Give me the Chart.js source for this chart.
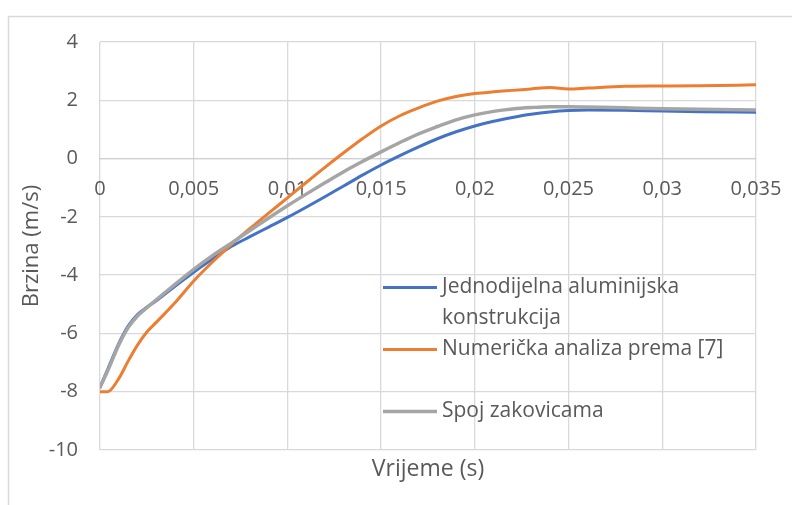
<!DOCTYPE html>
<html>
<head>
<meta charset="utf-8">
<title>Brzina</title>
<script src="https://cdn.jsdelivr.net/npm/chart.js@4.4.4/dist/chart.umd.min.js"></script>
<style>
    html, body { margin: 0; padding: 0; background: #ffffff; }
    #wrap { width: 792px; height: 505px; }
</style>
</head>
<body>
<div id="wrap"><canvas id="speedChart" width="792" height="505"></canvas></div>
<script>
// time samples (s) shared by all three series
const timeValues = [0, 0.0004, 0.001, 0.0015, 0.002, 0.0025, 0.003, 0.004, 0.005, 0.006,
    0.007, 0.008, 0.009, 0.01, 0.011, 0.012, 0.013, 0.014, 0.015, 0.016,
    0.017, 0.018, 0.019, 0.02, 0.021, 0.022, 0.023, 0.024, 0.025, 0.026,
    0.028, 0.03, 0.032, 0.035];

// speed (m/s)
const singlePieceSpeed = [-7.85, -7.25, -6.35, -5.75, -5.35, -5.1, -4.88, -4.38, -3.9, -3.45,
    -3.02, -2.68, -2.35, -2.02, -1.67, -1.31, -0.94, -0.57, -0.22, 0.1,
    0.4, 0.68, 0.92, 1.12, 1.28, 1.41, 1.52, 1.6, 1.65, 1.67,
    1.66, 1.63, 1.61, 1.59];

const numericalSpeed = [-8.0, -8.0, -7.55, -6.95, -6.4, -5.95, -5.62, -4.95, -4.2, -3.55,
    -2.95, -2.4, -1.87, -1.35, -0.82, -0.3, 0.2, 0.68, 1.12, 1.47,
    1.74, 1.97, 2.13, 2.23, 2.29, 2.34, 2.39, 2.44, 2.39, 2.42,
    2.48, 2.49, 2.5, 2.53];

const rivetedSpeed = [-7.85, -7.3, -6.4, -5.8, -5.4, -5.12, -4.85, -4.32, -3.8, -3.33,
    -2.9, -2.47, -2.04, -1.62, -1.22, -0.83, -0.45, -0.1, 0.23, 0.55,
    0.85, 1.1, 1.33, 1.5, 1.62, 1.7, 1.75, 1.78, 1.78, 1.77,
    1.74, 1.71, 1.69, 1.67];

const seriesNames = ["Jednodijelna aluminijska konstrukcija", "Numerička analiza prema [7]", "Spoj zakovicama"];

const xTicks = [0, 0.005, 0.01, 0.015, 0.02, 0.025, 0.03, 0.035];
const xTickLabels = ["0", "0,005", "0,01", "0,015", "0,02", "0,025", "0,03", "0,035"];
const yTicks = [-10, -8, -6, -4, -2, 0, 2, 4];
const yTickLabels = ["-10", "-8", "-6", "-4", "-2", "0", "2", "4"];

const FONT = "'Open Sans', 'Noto Sans', sans-serif";
const TEXT = "#595959";
const GRID = "#d9d9d9";

function toPoints(values) {
    return timeValues.map((t, i) => ({ x: t, y: values[i] }));
}

// light frame around the whole chart object
const chartFrame = {
    id: "chartFrame",
    beforeDraw(chart) {
        const ctx = chart.ctx;
        ctx.save();
        ctx.strokeStyle = GRID;
        ctx.lineWidth = 1.5;
        ctx.strokeRect(8.5, 16.5, chart.width + 20, chart.height + 20);
        ctx.restore();
    }
};

// legend sitting inside the plot, text wrapped like the office one
const insideLegend = {
    id: "insideLegend",
    afterDraw(chart, args, opts) {
        const ctx = chart.ctx;
        ctx.save();
        ctx.font = `${opts.fontSize}px ${FONT}`;
        ctx.textBaseline = "middle";
        ctx.textAlign = "left";
        chart.data.datasets.forEach((ds, i) => {
            const top = opts.top + i * opts.entryHeight;
            const midY = top + opts.lineHeight / 2;
            ctx.strokeStyle = ds.borderColor;
            ctx.lineWidth = ds.borderWidth;
            ctx.beginPath();
            ctx.moveTo(opts.left, midY);
            ctx.lineTo(opts.left + opts.swatch, midY);
            ctx.stroke();

            // simple word wrap
            const words = ds.label.split(" ");
            const lines = [];
            let cur = "";
            words.forEach(w => {
                const test = cur ? cur + " " + w : w;
                if (cur && ctx.measureText(test).width > opts.maxWidth) {
                    lines.push(cur);
                    cur = w;
                } else {
                    cur = test;
                }
            });
            if (cur) lines.push(cur);

            ctx.fillStyle = TEXT;
            lines.forEach((line, k) => {
                ctx.fillText(line, opts.left + opts.swatch + opts.gap, midY + k * opts.lineHeight);
            });
        });
        ctx.restore();
    }
};

const ctx = document.getElementById("speedChart");

new Chart(ctx, {
    type: "line",
    data: {
        datasets: [
            {
                label: seriesNames[0],
                data: toPoints(singlePieceSpeed),
                borderColor: "#4472C4",
                backgroundColor: "#4472C4",
                borderWidth: 3,
                order: 2
            },
            {
                label: seriesNames[1],
                data: toPoints(numericalSpeed),
                borderColor: "#ED7D31",
                backgroundColor: "#ED7D31",
                borderWidth: 3,
                order: 1
            },
            {
                label: seriesNames[2],
                data: toPoints(rivetedSpeed),
                borderColor: "#A5A5A5",
                backgroundColor: "#A5A5A5",
                borderWidth: 3.5,
                order: 0
            }
        ]
    },
    options: {
        responsive: false,
        devicePixelRatio: 1,
        animation: false,
        layout: {
            padding: { top: 42, right: 36, bottom: 0, left: 0 }
        },
        elements: {
            point: { radius: 0, hoverRadius: 0 },
            line: { cubicInterpolationMode: "monotone", fill: false, borderCapStyle: "round", borderJoinStyle: "round" }
        },
        scales: {
            x: {
                type: "linear",
                min: 0,
                max: 0.035,
                position: { y: 0 },
                afterBuildTicks(scale) {
                    scale.ticks = xTicks.map(v => ({ value: v }));
                },
                afterFit(scale) {
                    scale.paddingLeft = 0;
                    scale.paddingRight = 0;
                },
                grid: { color: GRID, lineWidth: 1.3, drawTicks: false },
                border: { display: true, color: "#cfcfcf", width: 1.3 },
                ticks: {
                    color: TEXT,
                    font: { family: FONT, size: 20 },
                    padding: 19,
                    maxRotation: 0,
                    autoSkip: false,
                    callback: (value, index) => xTickLabels[index]
                }
            },
            xTitle: {
                type: "linear",
                axis: "x",
                min: 0,
                max: 0.035,
                position: "bottom",
                grid: { display: false, drawTicks: false },
                border: { display: false },
                ticks: { display: false },
                afterFit(scale) {
                    scale.height = 55;
                    scale.paddingLeft = 0;
                    scale.paddingRight = 0;
                },
                title: {
                    display: true,
                    text: "Vrijeme (s)",
                    color: TEXT,
                    font: { family: FONT, size: 23 },
                    padding: { top: 0, bottom: 22 }
                }
            },
            y: {
                type: "linear",
                min: -10,
                max: 4,
                afterBuildTicks(scale) {
                    scale.ticks = yTicks.map(v => ({ value: v }));
                },
                afterFit(scale) {
                    scale.width = 100;
                    scale.paddingTop = 0;
                    scale.paddingBottom = 0;
                },
                grid: { color: GRID, lineWidth: 1.3, drawTicks: false },
                border: { display: false },
                ticks: {
                    color: TEXT,
                    font: { family: FONT, size: 20 },
                    padding: 22,
                    callback: (value, index) => yTickLabels[index]
                },
                title: {
                    display: true,
                    text: "Brzina (m/s)",
                    color: TEXT,
                    font: { family: FONT, size: 22 },
                    padding: { top: 19, bottom: 0 }
                }
            }
        },
        plugins: {
            legend: { display: false },
            tooltip: { enabled: false },
            insideLegend: {
                left: 383,
                top: 272,
                swatch: 54,
                gap: 5,
                fontSize: 21,
                lineHeight: 31,
                entryHeight: 62,
                maxWidth: 310
            }
        }
    },
    plugins: [chartFrame, insideLegend]
});
</script>
</body>
</html>
